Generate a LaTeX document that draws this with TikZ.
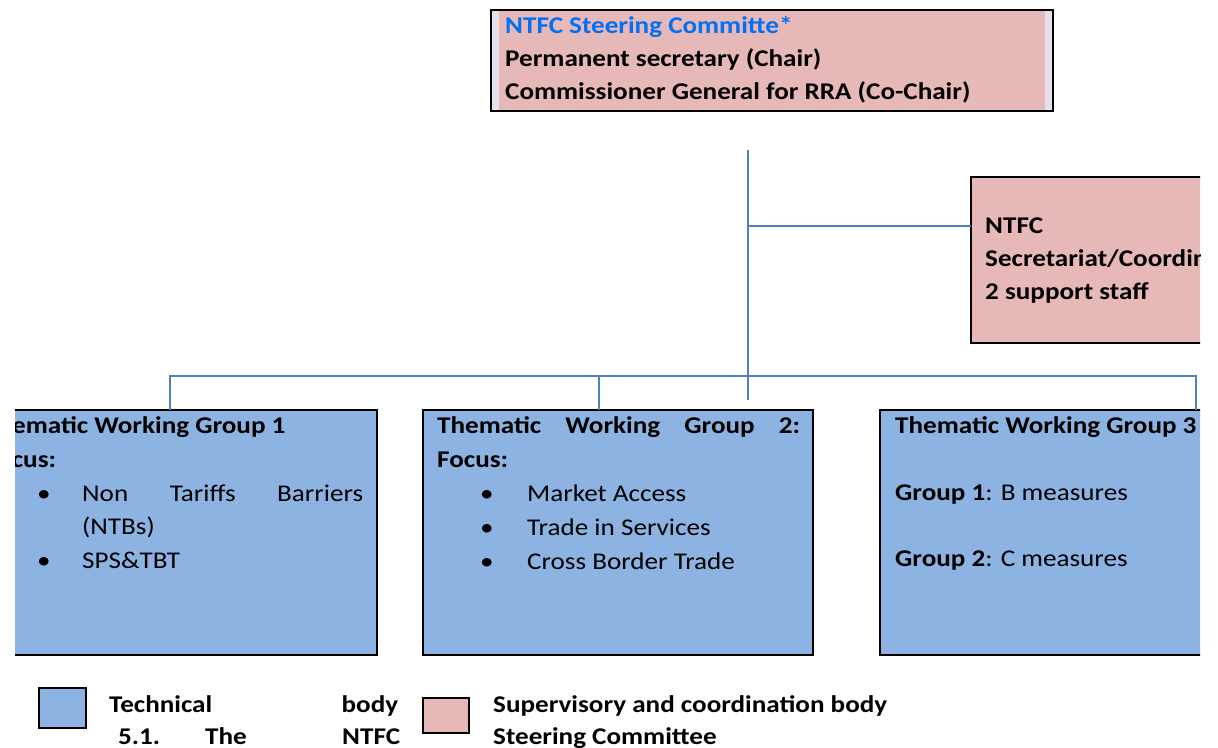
\documentclass[tikz,border=0pt]{standalone}
\usepackage{fontspec}
\setmainfont{Carlito}[FakeStretch=1.13]
\definecolor{tblue}{HTML}{8DB3E2}
\definecolor{spink}{HTML}{E6B8B7}
\definecolor{lav}{HTML}{E6E0EC}
\definecolor{lblue}{HTML}{4F81BD}
\definecolor{ttl}{HTML}{0070F5}
\tikzset{
  txt/.style={anchor=base west,inner sep=0pt,font=\fontsize{24}{28}\selectfont},
  btxt/.style={txt,font=\fontsize{24}{28}\selectfont\bfseries},
  conn/.style={draw=lblue,line width=1.6pt},
  edge/.style={draw=black,line width=1.3pt},
}
\begin{document}
\begin{tikzpicture}[x=1pt,y=-1pt]
\useasboundingbox (0,0) rectangle (1218,747);
% top box
\fill[lav] (491,10) rectangle (1053,111);
\fill[spink] (499,10) rectangle (1045,111);
\draw[edge] (491,10) rectangle (1053,111);
\node[btxt,text=ttl] (t1) at (505,33) {NTFC Steering Committe*};
\node[btxt] (t2) at (505,66) {Permanent secretary (Chair)};
\node[btxt] (t3) at (505,99) {Commissioner General for RRA (Co-Chair)};
\coordinate (top) at (748,150);
% secretariat
\begin{scope}
\clip (960,170) rectangle (1200,350);
\fill[spink] (971,177) rectangle (1210,343);
\draw[edge] (1220,177) -- (971,177) -- (971,343) -- (1220,343);
\node[btxt] (s1) at (985,233) {NTFC};
\node[btxt] (s2) at (985,266) {Secretariat/Coordinator};
\node[btxt] (s3) at (985,299) {2 support staff};
\end{scope}
\coordinate (sec) at (971,226);
\coordinate (jn) at (748,226);
\coordinate (mid) at (748,400);
\coordinate (b1t) at (170,410);
\coordinate (b2t) at (599,410);
\coordinate (b3t) at (1196,410);
% box 1
\begin{scope}
\clip (15,405) rectangle (420,660);
\fill[tblue] (15,410) rectangle (377,655);
\draw[edge] (5,410) -- (377,410) -- (377,655) -- (5,655);
\node[btxt] (g1a) at (-16,433) {Thematic Working Group 1};
\node[btxt] (g1b) at (-15,467) {Focus:};
\end{scope}
\node[txt] at (37,501) {\textbullet};
\node[txt] (g1c) at (82,501) {\makebox[281pt][s]{Non Tariffs Barriers}};
\node[txt] (g1d) at (82,534) {(NTBs)};
\node[txt] at (37,568) {\textbullet};
\node[txt] (g1e) at (82,568) {SPS\&TBT};
% box 2
\fill[tblue] (423,410) rectangle (813,655);
\draw[edge] (423,410) rectangle (813,655);
\node[btxt] (g2a) at (437,433) {\makebox[363pt][s]{Thematic Working Group 2:}};
\node[btxt] (g2b) at (437,467) {Focus:};
\node[txt] at (480,501) {\textbullet};
\node[txt] (g2c) at (527,501) {Market Access};
\node[txt] at (480,535) {\textbullet};
\node[txt] (g2d) at (527,535) {Trade in Services};
\node[txt] at (480,569) {\textbullet};
\node[txt] (g2e) at (527,569) {Cross Border Trade};
% box 3
\begin{scope}
\clip (870,405) rectangle (1200,660);
\fill[tblue] (880,410) rectangle (1210,655);
\draw[edge] (1220,410) -- (880,410) -- (880,655) -- (1220,655);
\node[btxt] (g3a) at (895,433) {Thematic Working Group 3};
\node[txt] (g3b) at (895,500) {\textbf{Group 1}: B measures};
\node[txt] (g3c) at (895,566) {\textbf{Group 2}: C measures};
\end{scope}
% connectors
\draw[conn] (top) -- (mid);
\draw[conn] (jn) -- (sec);
\draw[conn] (b1t) -- (170,376) -- (1196,376) -- (b3t);
\draw[conn] (599,376) -- (b2t);
% legend
\fill[tblue] (39,688) rectangle (86,728);
\draw[edge] (39,688) rectangle (86,728);
\node[btxt] (l1) at (109,712) {\makebox[289pt][s]{Technical body}};
\node[btxt] (l2) at (118,744) {5.1.};
\node[btxt] (l3) at (205,744) {The};
\node[btxt] (l4) at (342,744) {NTFC};
\fill[spink] (423,698) rectangle (469,733);
\draw[edge] (423,698) rectangle (469,733);
\node[btxt] (l5) at (493,712) {Supervisory and coordination body};
\node[btxt] (l6) at (493,744) {Steering Committee};
\end{tikzpicture}
\end{document}
